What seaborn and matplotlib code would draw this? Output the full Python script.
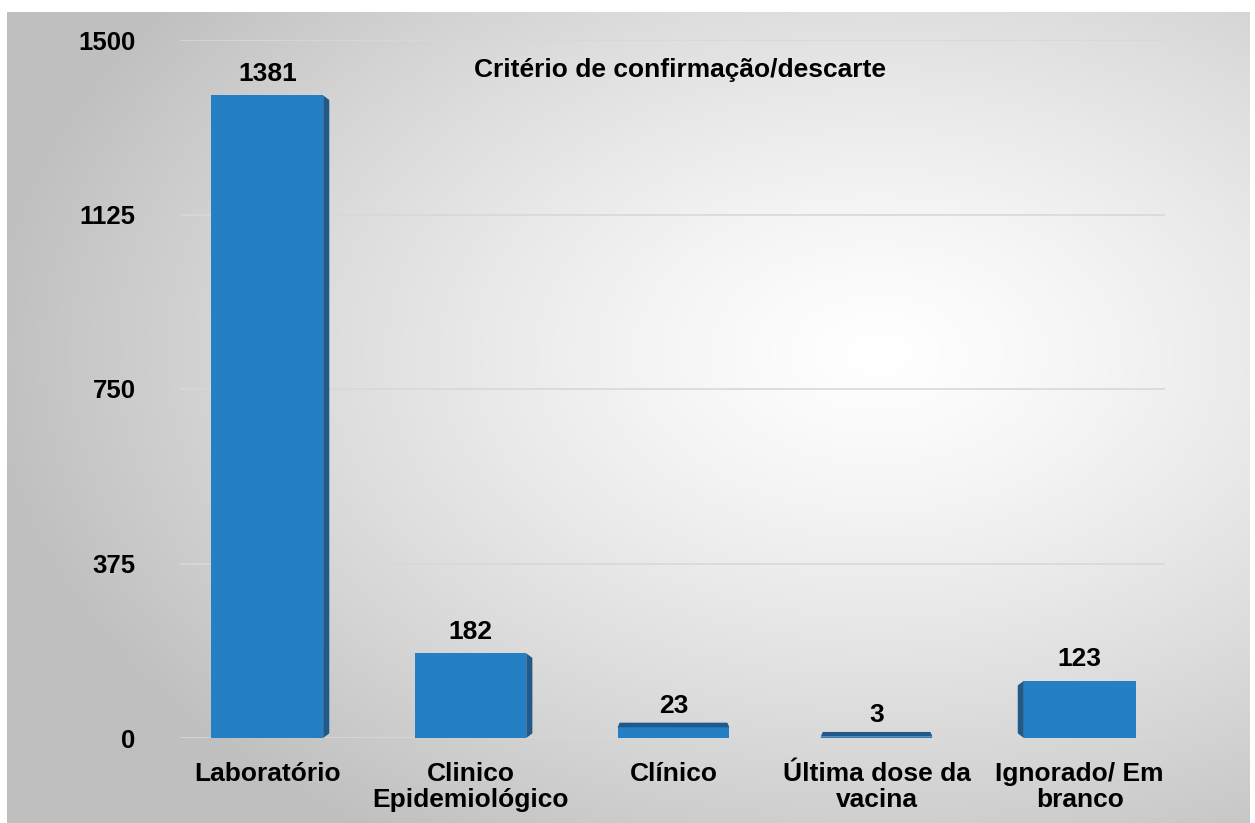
import numpy as np
import pandas as pd
import matplotlib
matplotlib.use("Agg")
import matplotlib.pyplot as plt
from matplotlib.patches import Polygon
import seaborn as sns

categories = ["Laboratório", "Clinico\nEpidemiológico", "Clínico", "Última dose da\nvacina", "Ignorado/ Em\nbranco"]
values = [1381, 182, 23, 3, 123]
yticks = [0, 375, 750, 1125, 1500]
title = "Critério de confirmação/descarte"

sns.set_theme(style="white")
plt.rcParams['font.family'] = ['Liberation Sans', 'DejaVu Sans']
plt.rcParams['text.color'] = 'black'
plt.rcParams['xtick.color'] = 'black'
plt.rcParams['ytick.color'] = 'black'

W, H = 1255, 823
fig = plt.figure(figsize=(W / 100, H / 100), dpi=100)
fig.patch.set_facecolor("white")

# gradient background panel
bg = fig.add_axes([7 / W, 0, (1250 - 7) / W, (H - 12) / H])
bg.set_axis_off()
yy, xx = np.mgrid[0:400, 0:600]
cx, cy = 0.70 * 600, 0.42 * 400
r = np.sqrt(((xx - cx) / 600) ** 2 + ((yy - cy) / 400) ** 2)
r = np.clip(r / 0.72, 0, 1)
shade = 1.0 - 0.25 * r ** 1.3
img = np.dstack([shade, shade, shade])
bg.imshow(img, aspect="auto", extent=[0, 1, 0, 1], interpolation="bicubic")
bg.set_xlim(0, 1)
bg.set_ylim(0, 1)

ax = fig.add_axes([180 / W, 85 / H, (1165 - 180) / W, 698 / H])
ax.patch.set_alpha(0)
df = pd.DataFrame({"cat": categories, "val": values})
sns.barplot(data=df, x="cat", y="val", color="#2580c3", saturation=1, width=0.55,
            linewidth=0, ax=ax)
ax.set_xlim(-0.43, 4.42)
ax.set_ylim(0, 1500)
ax.set_yticks(yticks)
ax.set_yticklabels([str(t) for t in yticks], fontsize=18.5, fontweight="bold")
ax.tick_params(axis="y", length=0, pad=32)
ax.tick_params(axis="x", length=0, pad=17)
for lab in ax.get_xticklabels():
    lab.set_fontsize(19)
    lab.set_fontweight("bold")
    lab.set_linespacing(1.15)
ax.set_xlabel("")
ax.set_ylabel("")
ax.yaxis.grid(True, color="#d8d8d8", linewidth=1.2)
ax.set_axisbelow(True)
for s in ax.spines.values():
    s.set_visible(False)

# 3D-like side faces derived from bar geometry
dark = "#1f5a8a"
for i, p in enumerate(list(ax.patches)):
    x0, w, h = p.get_x(), p.get_width(), p.get_height()
    dx = 0.03
    dy = 10
    if i <= 1:
        poly = [(x0 + w, 0), (x0 + w + dx, dy), (x0 + w + dx, h - dy), (x0 + w, h)]
    elif i >= 4:
        poly = [(x0, 0), (x0 - dx, dy), (x0 - dx, h - dy), (x0, h)]
    else:
        poly = [(x0, h), (x0 + w, h), (x0 + w - 0.01, h + 10), (x0 + 0.01, h + 10)]
    ax.add_patch(Polygon(poly, closed=True, color=dark, zorder=p.get_zorder(), linewidth=0))

ax.bar_label(ax.containers[0], labels=[str(v) for v in values], padding=7,
             fontsize=19, fontweight="bold", color="black")

fig.text(680 / W, 1 - 70 / H, title, ha="center", va="center", fontsize=19, fontweight="bold")

fig.savefig("out.png", dpi=100)
